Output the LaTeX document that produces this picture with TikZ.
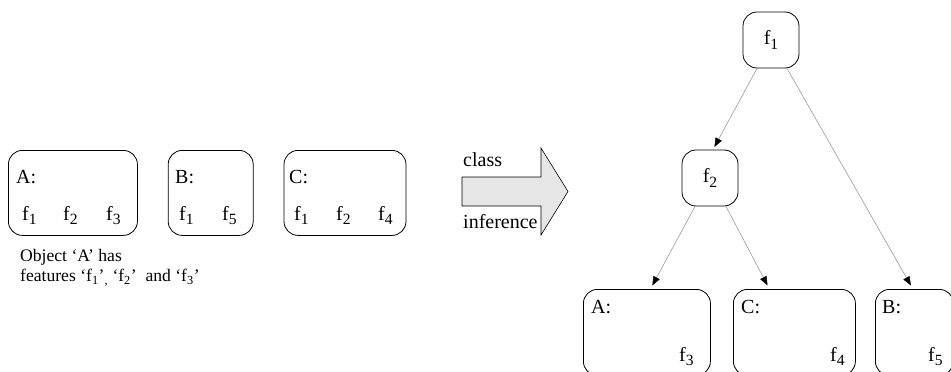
\documentclass[tikz,border=0pt]{standalone}
\usepackage{fontspec}
\setmainfont{Liberation Serif}
\usetikzlibrary{positioning, arrows.meta, calc}
\definecolor{bigarrowfill}{HTML}{E6E6E6}
\definecolor{linkline}{HTML}{8C8C8C}
\newcommand{\fsub}[1]{\raisebox{-0.24em}{\scalebox{0.78}{#1}}}
\tikzset{
  objbox/.style={
    draw,
    rounded corners=14pt,
    line width=0.8pt,
    minimum height=85pt,
    inner sep=0pt,
    anchor=north west,
  },
  featbox/.style={objbox, minimum width=56pt, minimum height=56pt, anchor=center,
    font=\fontsize{20}{23}\selectfont},
  lbl/.style={
    font=\fontsize{20}{23}\selectfont,
    inner sep=0pt,
    anchor=base west,
  },
  note/.style={font=\fontsize{17.6}{20}\selectfont, inner sep=0pt, align=left, anchor=north west},
  link/.style={-{Triangle[length=9pt, width=7pt, color=black, fill=black]}, draw=linkline, line width=0.5pt},
}

\begin{document}
\begin{tikzpicture}[x=1pt, y=-1pt]
\useasboundingbox (0,0) rectangle (951,372);

% Objects (left)
\node[objbox, minimum width=129pt] (objA) at (8,150) {};
\node[objbox, minimum width=85pt, right=30pt of objA.north east, anchor=north west] (objB) {};
\node[objbox, minimum width=122pt, right=30pt of objB.north east, anchor=north west] (objC) {};

\node[lbl] (nameA) at (16,183) {A:};
\node[lbl] (fA1) at (22,220) {f\fsub{1}};
\node[lbl] (fA2) at (63,220) {f\fsub{2}};
\node[lbl] (fA3) at (106,220) {f\fsub{3}};

\node[lbl] (nameB) at (175,183) {B:};
\node[lbl] (fB1) at (179,220) {f\fsub{1}};
\node[lbl] (fB5) at (222,220) {f\fsub{5}};

\node[lbl] (nameC) at (289,183) {C:};
\node[lbl] (fC1) at (294,220) {f\fsub{1}};
\node[lbl] (fC2) at (336,220) {f\fsub{2}};
\node[lbl] (fC4) at (378,220) {f\fsub{4}};

\node[note] (noteA) at (20,249) {Object `A' has\\features `f\textsubscript{1}'\textsubscript{,} `f\textsubscript{2}'~ and `f\textsubscript{3}'};

% Class inference (block arrow)
\draw[line width=0.6pt, fill=bigarrowfill]
  (462,177) -- (541,177) -- (541,148) -- (568,191.5) -- (541,235) -- (541,206) -- (462,206) -- cycle;
\node[lbl] (classtxt) at (463,166) {class};
\node[lbl] (inftxt) at (463,228) {inference};

% Tree (right)
\node[featbox] (f1) at (771,40) {f\fsub{1}};
\node[featbox] (f2) at (710,178) {f\fsub{2}};

\node[objbox, minimum width=127pt, minimum height=86pt] (leafA) at (583,289) {};
\node[objbox, minimum width=122pt, minimum height=86pt] (leafC) at (733,289) {};
\node[objbox, minimum width=78pt, minimum height=86pt] (leafB) at (875,289) {};

\node[lbl] (nameA2) at (591,313) {A:};
\node[lbl] (fA3b) at (679,361) {f\fsub{3}};
\node[lbl] (nameC2) at (741,313) {C:};
\node[lbl] (fC4b) at (830,361) {f\fsub{4}};
\node[lbl] (nameB2) at (882,313) {B:};
\node[lbl] (fB5b) at (928,361) {f\fsub{5}};

% --- Links ---
\draw[link, shorten >=3pt] ([xshift=-14pt]f1.south) -- ([xshift=3pt]f2.north);
\draw[link, shorten >=4pt] ([xshift=16pt]f1.south) -- ([xshift=-1.5pt]leafB.north);
\draw[link, shorten >=4pt] ([xshift=-15pt]f2.south) -- ([xshift=3.5pt]leafA.north);
\draw[link, shorten >=4pt] ([xshift=16pt]f2.south) -- ([xshift=-25pt]leafC.north);

\end{tikzpicture}
\end{document}
